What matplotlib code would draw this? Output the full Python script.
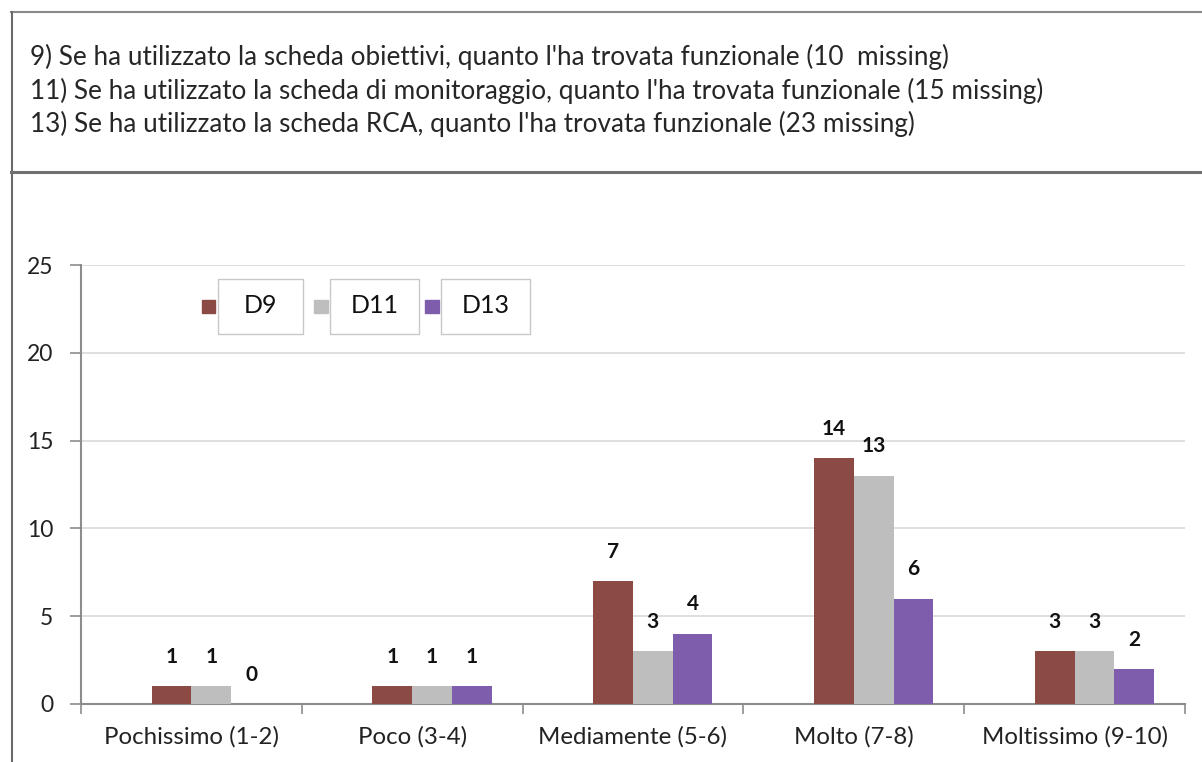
import matplotlib.pyplot as plt
import matplotlib.patches as mpatches
import numpy as np

categories = ['Pochissimo (1-2)', 'Poco (3-4)', 'Mediamente (5-6)', 'Molto (7-8)', 'Moltissimo (9-10)']
series_names = ['D9', 'D11', 'D13']
D9 = [1, 1, 7, 14, 3]
D11 = [1, 1, 3, 13, 3]
D13 = [0, 1, 4, 6, 2]
title_lines = [
    "9) Se ha utilizzato la scheda obiettivi, quanto l'ha trovata funzionale (10  missing)",
    "11) Se ha utilizzato la scheda di monitoraggio, quanto l'ha trovata funzionale (15 missing)",
    "13) Se ha utilizzato la scheda RCA, quanto l'ha trovata funzionale (23 missing)",
]
colors = ['#8B4A44', '#BEBEBE', '#7F5DAD']

plt.rcParams['font.family'] = ['Lato', 'DejaVu Sans']

W, H = 1202, 762
fig = plt.figure(figsize=(W / 100, H / 100), dpi=100)

#%% frame lines of the slide
def fx(px):
    return px / W

def fy(py):
    return 1 - py / H

fig.add_artist(plt.Line2D([fx(11), 1], [fy(12), fy(12)], color='#8a8a8a', lw=1.5))
fig.add_artist(plt.Line2D([fx(11.5), fx(11.5)], [fy(12), 0], color='#6a6a6a', lw=1.5))
fig.add_artist(plt.Line2D([fx(11), 1], [fy(172), fy(172)], color='#707070', lw=2.2))

for i, line in enumerate(title_lines):
    fig.text(fx(30), fy(65 + 33.5 * i), line, fontsize=18.8, color='#262626',
             va='baseline', ha='left')

#%% chart
ax = fig.add_axes([fx(81), fy(704), fx(1185) - fx(81), fy(265) - fy(704)])
x = np.arange(len(categories))
w = 0.18
shift = 0.09   # bar groups sit a bit right of the category centre
data = [D9, D11, D13]
for k, vals in enumerate(data):
    pos = x + (k - 1) * w + shift
    ax.bar(pos, vals, width=w, color=colors[k], zorder=3)
    for p, v in zip(pos, vals):
        ax.text(p, v + 1.1, str(v), ha='center', va='bottom', fontsize=15,
                fontweight='bold', color='#111111')

ax.set_xlim(-0.5, len(categories) - 0.5)
ax.set_ylim(0, 25)
ax.set_yticks(range(0, 26, 5))
ax.set_xticks(x)
ax.set_xticklabels(categories, fontsize=17.3, color='#222222')
ax.tick_params(axis='x', length=0, pad=16)
ax.set_xticks(np.arange(-0.5, len(categories), 1), minor=True)
ax.tick_params(axis='x', which='minor', length=7, color='#8c8c8c', width=1.2)
ax.tick_params(axis='y', length=8, color='#8c8c8c', width=1.2, labelsize=16.5,
               labelcolor='#222222', pad=12)
ax.grid(axis='y', color='#d9d9d9', lw=1.2, zorder=0)
for s in ['top', 'right']:
    ax.spines[s].set_visible(False)
ax.spines['left'].set_color('#8c8c8c')
ax.spines['bottom'].set_color('#8c8c8c')
ax.spines['left'].set_linewidth(1.5)
ax.spines['bottom'].set_linewidth(1.5)

#%% legend: separate boxes
leg_sq = [(202, 215), (314, 328), (425, 439)]
leg_box = [(218, 303), (330, 419), (441, 530)]
for k, name in enumerate(series_names):
    s0, s1 = leg_sq[k]
    fig.add_artist(mpatches.Rectangle((fx(s0), fy(313)), fx(s1 - s0), fy(300) - fy(313),
                                      color=colors[k]))
    x0, x1 = leg_box[k]
    fig.add_artist(mpatches.Rectangle((fx(x0), fy(334)), fx(x1 - x0), fy(279) - fy(334),
                                      facecolor='white', edgecolor='#c8c8c8', lw=1))
    fig.text(fx((x0 + x1) / 2), fy(306), name, ha='center', va='center',
             fontsize=18, color='#111111')

fig.savefig('out.png', dpi=100)
